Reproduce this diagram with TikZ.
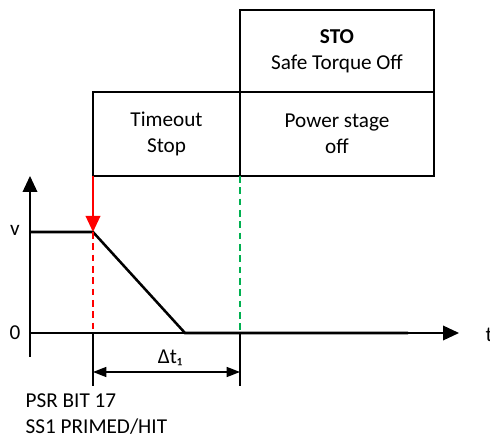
\documentclass[tikz,border=0pt]{standalone}
\usepackage{fontspec}
\setmainfont{Carlito}
\usetikzlibrary{arrows.meta}
\definecolor{markgreen}{RGB}{0,176,80}

\begin{document}
\begin{tikzpicture}[x=0.75pt,y=0.75pt,
    txt/.style={font=\fontsize{15.9}{19.5}\selectfont},
    box/.style={txt, draw, line width=1.5pt, align=center, inner sep=0pt, outer sep=0pt},
    tip/.style={-{Triangle[length=12pt,width=11pt]}},
    markline/.style={line width=1.4pt, dash pattern=on 5pt off 3.5pt}]
    \useasboundingbox (0,0) rectangle (490,436);

    % State boxes
    \node[box, minimum width=145.5pt, minimum height=61.5pt] (sto) at (337,385) {\textbf{STO}\\Safe Torque Off};
    \node[box, minimum width=110.25pt, minimum height=63pt] (tos) at (166.5,302) {Timeout\\Stop};
    \node[box, minimum width=145.5pt, minimum height=63pt] (pso) at (337,302) {Power stage\\off};

    % Axes
    \coordinate (ybot) at (30,79);
    \coordinate (ytop) at (30,260);
    \coordinate (xorg) at (30,103);
    \coordinate (xend) at (459,103);
    \draw[line width=1.1pt, tip] (ybot) -- (ytop);
    \draw[line width=1.1pt, tip] (xorg) -- (xend);
    \node[txt] (vlbl) at (15,206) {v};
    \node[txt] (zlbl) at (15,103) {0};
    \node[txt, anchor=west] (tlbl) at (481,101) {t};

    % Speed profile
    \coordinate (vstart) at (30,204);
    \coordinate (brake) at (93,204);
    \coordinate (halt) at (185,103);
    \coordinate (vend) at (408,103);
    \draw[line width=1.9pt] (vstart) -- (brake) -- (halt) -- (vend);

    % Markers
    \coordinate (r0) at (93,103);
    \coordinate (r1) at (93,50);
    \coordinate (g0) at (240,103);
    \coordinate (g1) at (240,50);
    \draw[red, line width=1pt, tip] (tos.south west) -- (brake);
    \draw[red, markline] (brake) -- (r0);
    \draw[markgreen, markline] (tos.south east) -- (g0);
    \draw[line width=1pt] (r0) -- (r1);
    \draw[line width=1pt] (g0) -- (g1);

    % Time interval
    \coordinate (d1) at (93,64);
    \coordinate (d2) at (240,64);
    \draw[line width=1.1pt, {Triangle[length=10pt,width=7.5pt]}-{Triangle[length=10pt,width=7.5pt]}] (d1) -- (d2);
    \node[txt] (dt) at (170,78) {Δt₁};

    \node[txt, anchor=west, align=left] (psr) at (21,22) {PSR BIT 17\\SS1 PRIMED/HIT};
\end{tikzpicture}
\end{document}
